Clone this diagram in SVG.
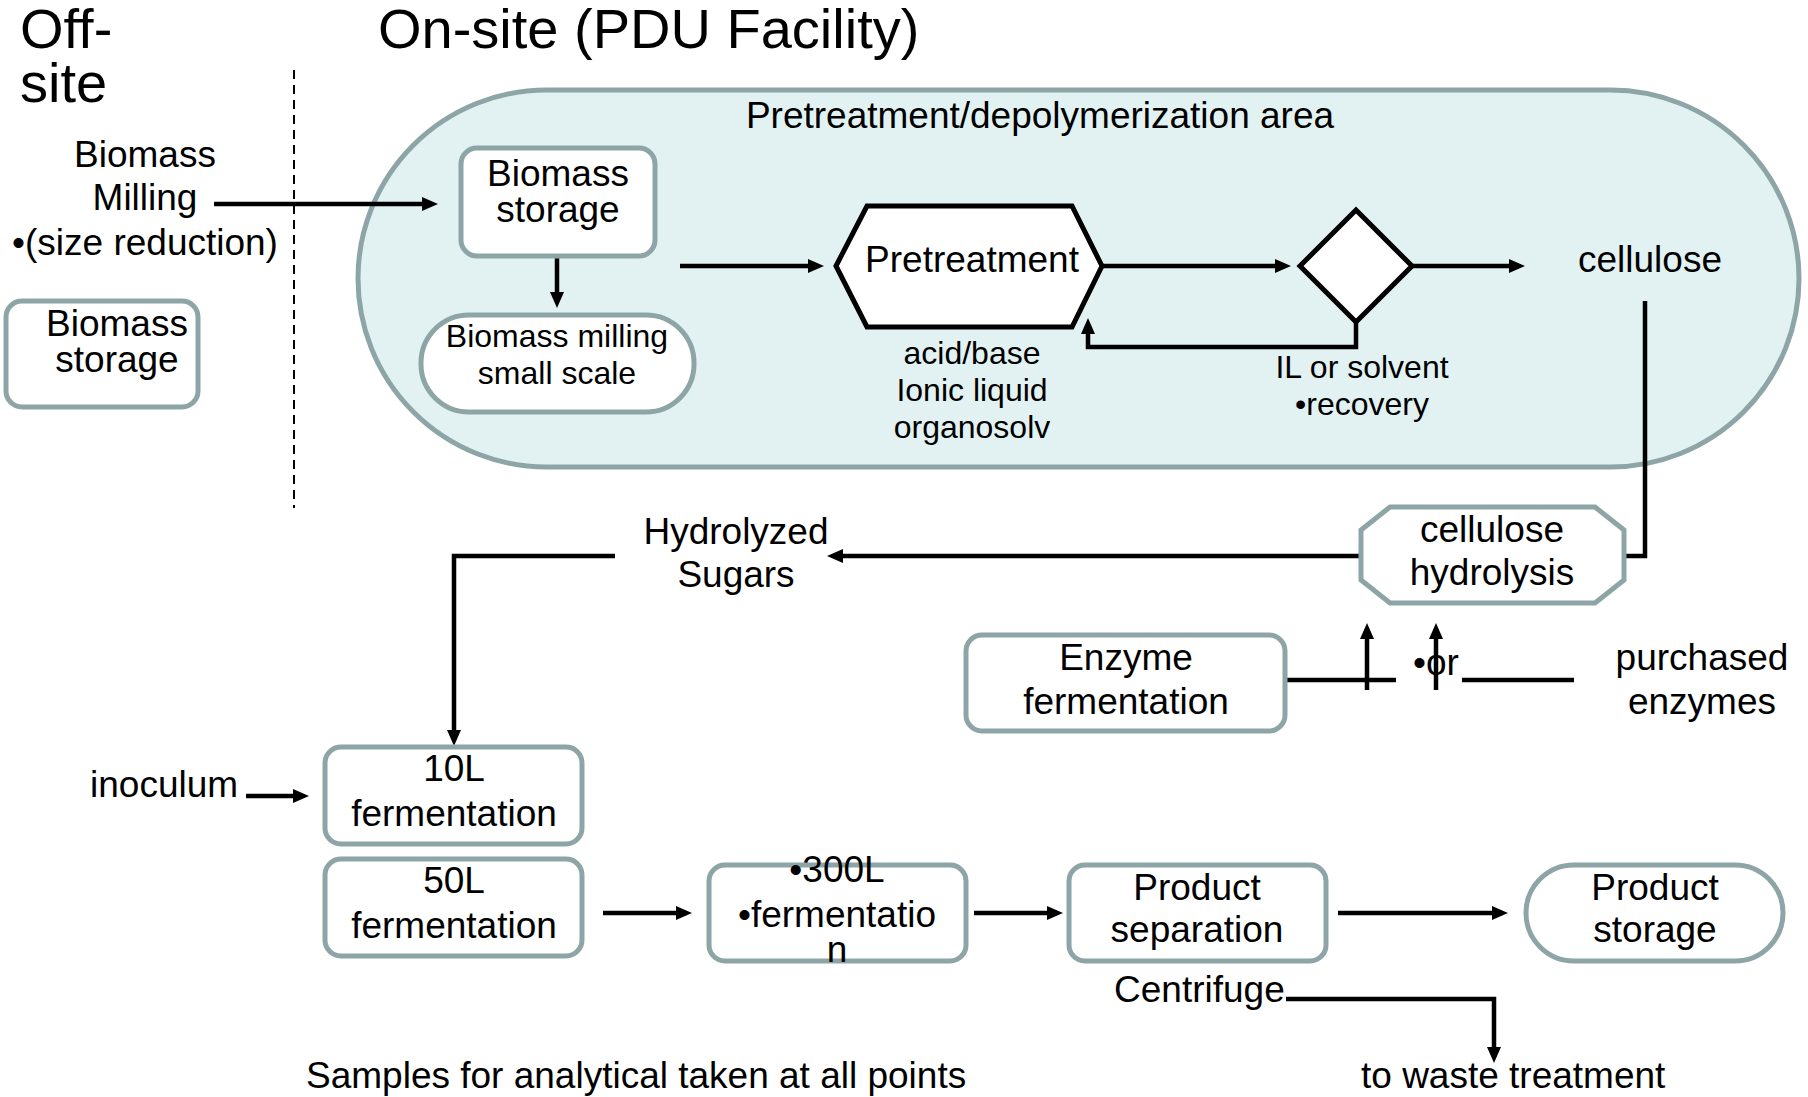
<svg xmlns="http://www.w3.org/2000/svg" width="1808" height="1097" viewBox="0 0 1808 1097">
<style>
text{font-family:"Liberation Sans",Arial,sans-serif;font-size:37px;fill:#000}
.c{text-anchor:middle}
.s{font-size:32px}
.t{font-size:56px}
.box{fill:#fff;stroke:#8da5a6;stroke-width:5}
.blk{fill:#fff;stroke:#000;stroke-width:5;stroke-linejoin:miter}
.ln{fill:none;stroke:#000;stroke-width:4.5}
.ar{marker-end:url(#ah)}
</style>
<defs>
<marker id="ah" viewBox="0 0 16 14" refX="10" refY="7" markerWidth="16" markerHeight="14" markerUnits="userSpaceOnUse" orient="auto">
<path d="M0,0 L16,7 L0,14 z" fill="#000"/>
</marker>
</defs>
<rect width="1808" height="1097" fill="#fff"/>

<g id="titles">
<text class="t" x="20" y="48">Off-</text>
<text class="t" x="20" y="102">site</text>
<text class="t" x="378" y="48">On-site (PDU Facility)</text>
<line x1="294" y1="70" x2="294" y2="508" stroke="#000" stroke-width="2" stroke-dasharray="9,6"/>
</g>

<g id="area">
<rect x="358" y="90" width="1441" height="377" rx="188.5" fill="#e2f2f2" stroke="#8da5a6" stroke-width="5"/>
<text class="c" x="1040" y="128">Pretreatment/depolymerization area</text>
</g>

<g id="connectors">
<path class="ln ar" d="M214,204 H432"/>
<path class="ln ar" d="M557,244 V302"/>
<path class="ln ar" d="M680,266 H818"/>
<path class="ln ar" d="M1102,266 H1285"/>
<path class="ln ar" d="M1411,266 H1519"/>
<path class="ln ar" d="M1356,318 V347 H1088 V324"/>
<path class="ln" d="M1645,301 V556 H1622"/>
<path class="ln ar" d="M1361,556 H833"/>
<path class="ln ar" d="M615,556 H454 V740"/>
<path class="ln ar" d="M246,796 H303"/>
<path class="ln" d="M1285,680 H1396" stroke-width="7"/>
<path class="ln" d="M1462,680 H1574" stroke-width="7"/>
<path class="ln ar" d="M1367,690 V629"/>
<path class="ln ar" d="M1436,690 V629"/>
<path class="ln ar" d="M603,913 H686"/>
<path class="ln ar" d="M974,913 H1057"/>
<path class="ln ar" d="M1338,913 H1502"/>
<path class="ln ar" d="M1286,999 H1494 V1057"/>
</g>

<g id="offsite-milling">
<text class="c" x="145" y="167">Biomass</text>
<text class="c" x="145" y="210">Milling</text>
<text class="c" x="145" y="255">•(size reduction)</text>
</g>

<g id="offsite-storage">
<rect class="box" x="6" y="301" width="192" height="106" rx="16"/>
<text class="c" x="117" y="336">Biomass</text>
<text class="c" x="117" y="372">storage</text>
</g>

<g id="biomass-storage">
<rect class="box" x="461" y="148" width="194" height="108" rx="16"/>
<text class="c" x="558" y="186">Biomass</text>
<text class="c" x="558" y="222">storage</text>
</g>

<g id="biomass-milling">
<rect class="box" x="421" y="315" width="273" height="97" rx="48"/>
<text class="c s" x="557" y="347">Biomass milling</text>
<text class="c s" x="557" y="384">small scale</text>
</g>

<g id="pretreatment">
<polygon class="blk" points="836,266 867,206 1072,206 1102,266 1072,327 867,327"/>
<text class="c" x="972" y="272">Pretreatment</text>
<text class="c s" x="972" y="364">acid/base</text>
<text class="c s" x="972" y="401">Ionic liquid</text>
<text class="c s" x="972" y="438">organosolv</text>
</g>

<g id="recovery">
<polygon class="blk" points="1356,210 1412,266 1356,322 1300,266"/>
<text class="c s" x="1362" y="378">IL or solvent</text>
<text class="c s" x="1362" y="415">•recovery</text>
</g>

<g id="cellulose">
<text class="c" x="1650" y="272">cellulose</text>
</g>

<g id="cellulose-hydrolysis">
<polygon class="box" points="1390,507 1595,507 1624,530 1624,580 1595,603 1390,603 1361,580 1361,530"/>
<text class="c" x="1492" y="542">cellulose</text>
<text class="c" x="1492" y="585">hydrolysis</text>
</g>

<g id="hydrolyzed-sugars">
<text class="c" x="736" y="544">Hydrolyzed</text>
<text class="c" x="736" y="587">Sugars</text>
</g>

<g id="enzyme-fermentation">
<rect class="box" x="966" y="635" width="319" height="96" rx="16"/>
<text class="c" x="1126" y="670">Enzyme</text>
<text class="c" x="1126" y="714">fermentation</text>
</g>

<g id="or">
<text x="1413" y="675">•or</text>
</g>

<g id="purchased-enzymes">
<text class="c" x="1702" y="670">purchased</text>
<text class="c" x="1702" y="714">enzymes</text>
</g>

<g id="inoculum">
<text x="90" y="797">inoculum</text>
</g>

<g id="f10">
<rect class="box" x="325" y="747" width="257" height="97" rx="16"/>
<text class="c" x="454" y="781">10L</text>
<text class="c" x="454" y="826">fermentation</text>
</g>

<g id="f50">
<rect class="box" x="325" y="859" width="257" height="97" rx="16"/>
<text class="c" x="454" y="893">50L</text>
<text class="c" x="454" y="938">fermentation</text>
</g>

<g id="f300">
<rect class="box" x="709" y="865" width="257" height="96" rx="16"/>
<text class="c" x="837" y="882">•300L</text>
<text class="c" x="837" y="927">•fermentatio</text>
<text class="c" x="837" y="962">n</text>
</g>

<g id="product-separation">
<rect class="box" x="1069" y="865" width="257" height="96" rx="16"/>
<text class="c" x="1197" y="900">Product</text>
<text class="c" x="1197" y="942">separation</text>
</g>

<g id="product-storage">
<rect class="box" x="1526" y="865" width="257" height="96" rx="48"/>
<text class="c" x="1655" y="900">Product</text>
<text class="c" x="1655" y="942">storage</text>
</g>

<g id="centrifuge">
<text x="1114" y="1002">Centrifuge</text>
</g>

<g id="waste">
<text x="1361" y="1088">to waste treatment</text>
</g>

<g id="samples">
<text x="306" y="1088">Samples for analytical taken at all points</text>
</g>
</svg>
